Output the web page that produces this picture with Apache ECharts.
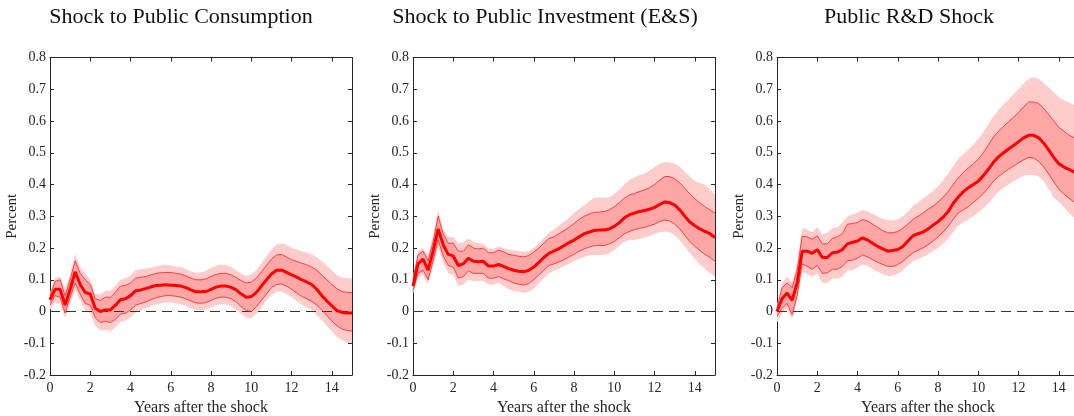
<!DOCTYPE html>
<html>
<head>
<meta charset="utf-8">
<script src="https://cdn.jsdelivr.net/npm/echarts@6/dist/echarts.min.js"></script>
<style>html,body{margin:0;padding:0;background:#fff}#c{width:1074px;height:416px}</style>
</head>
<body>
<div id="c"></div>
<script>
const titles = ['Shock to Public Consumption', 'Shock to Public Investment (E&S)', 'Public R&D Shock'];
const xAxisName = 'Years after the shock';
const yAxisName = 'Percent';

const horizon = [0,0.25,0.5,0.75,1,1.25,1.5,1.75,2,2.25,2.5,2.75,3,3.25,3.5,3.75,4,4.25,4.5,4.75,5,5.25,5.5,5.75,6,6.25,6.5,6.75,7,7.25,7.5,7.75,8,8.25,8.5,8.75,9,9.25,9.5,9.75,10,10.25,10.5,10.75,11,11.25,11.5,11.75,12,12.25,12.5,12.75,13,13.25,13.5,13.75,14,14.25,14.5,14.75,15];

// Panel 1: public consumption
const pcMed  = [0.037,0.07,0.07,0.02,0.07,0.125,0.085,0.06,0.055,0.01, 0.0,0.005,0.005,0.02,0.037,0.04,0.05,0.065,0.068,0.072, 0.077,0.082,0.083,0.084,0.083,0.082,0.08,0.075,0.068,0.062, 0.062,0.063,0.07,0.077,0.08,0.08,0.076,0.068,0.055,0.045, 0.047,0.06,0.08,0.1,0.118,0.13,0.13,0.123,0.115,0.108, 0.1,0.093,0.085,0.07,0.05,0.033,0.018,0.003,-0.003,-0.005,-0.005];
const pcHi68 = [0.05,0.095,0.1,0.05,0.1,0.16,0.12,0.1,0.085,0.04, 0.035,0.045,0.045,0.06,0.08,0.082,0.09,0.105,0.108,0.11, 0.115,0.12,0.122,0.123,0.123,0.12,0.118,0.112,0.105,0.1, 0.1,0.103,0.11,0.117,0.12,0.12,0.115,0.107,0.097,0.09, 0.093,0.105,0.125,0.145,0.165,0.178,0.18,0.172,0.163,0.158, 0.152,0.147,0.14,0.13,0.115,0.1,0.085,0.072,0.063,0.06,0.06];
const pcLo68 = [0.02,0.05,0.045,-0.005,0.045,0.09,0.055,0.025,0.02,-0.02, -0.035,-0.03,-0.035,-0.025,-0.008,-0.005,0.005,0.02,0.025,0.03, 0.037,0.043,0.047,0.05,0.05,0.048,0.045,0.04,0.033,0.027, 0.026,0.028,0.035,0.042,0.045,0.045,0.04,0.03,0.015,0.003, 0.0,0.015,0.035,0.055,0.075,0.085,0.087,0.08,0.07,0.058, 0.048,0.04,0.032,0.02,0.005,-0.013,-0.03,-0.045,-0.055,-0.06,-0.062];
const pcHi90 = [0.06,0.105,0.11,0.07,0.115,0.18,0.14,0.12,0.1,0.055, 0.055,0.065,0.065,0.08,0.1,0.105,0.113,0.13,0.133,0.135, 0.138,0.142,0.145,0.147,0.145,0.142,0.14,0.133,0.127,0.122, 0.123,0.128,0.137,0.145,0.148,0.146,0.14,0.13,0.12,0.112, 0.117,0.13,0.152,0.175,0.195,0.21,0.215,0.21,0.2,0.195, 0.19,0.185,0.18,0.17,0.158,0.143,0.13,0.115,0.107,0.105,0.105];
const pcLo90 = [0.005,0.03,0.025,-0.02,0.025,0.07,0.035,0.005,-0.005,-0.045, -0.06,-0.058,-0.062,-0.05,-0.033,-0.03,-0.018,-0.003,0.003,0.01, 0.017,0.022,0.025,0.028,0.028,0.026,0.023,0.018,0.01,0.005, 0.004,0.007,0.013,0.02,0.023,0.022,0.016,0.005,-0.008,-0.02, -0.022,-0.008,0.012,0.035,0.052,0.062,0.063,0.055,0.045,0.033, 0.022,0.013,0.004,-0.01,-0.027,-0.045,-0.063,-0.08,-0.09,-0.097,-0.1];

// Panel 2: public investment (E&S)
const piMed  = [0.08,0.15,0.165,0.13,0.19,0.26,0.21,0.18,0.175,0.145, 0.15,0.168,0.158,0.157,0.158,0.143,0.143,0.148,0.142,0.135, 0.13,0.127,0.125,0.13,0.14,0.155,0.17,0.183,0.19,0.198, 0.207,0.217,0.225,0.235,0.245,0.25,0.255,0.257,0.257,0.26, 0.268,0.28,0.295,0.305,0.31,0.315,0.318,0.322,0.328,0.337, 0.345,0.343,0.335,0.32,0.3,0.282,0.27,0.26,0.252,0.245,0.233];
const piHi68 = [0.1,0.178,0.19,0.16,0.22,0.3,0.245,0.215,0.215,0.19, 0.19,0.21,0.2,0.197,0.2,0.185,0.185,0.193,0.188,0.18, 0.177,0.174,0.172,0.176,0.187,0.2,0.215,0.23,0.235,0.245, 0.255,0.265,0.277,0.29,0.3,0.307,0.312,0.313,0.315,0.32, 0.33,0.343,0.357,0.367,0.372,0.378,0.383,0.39,0.4,0.413, 0.425,0.425,0.418,0.405,0.388,0.37,0.355,0.342,0.33,0.32,0.31];
const piLo68 = [0.065,0.12,0.13,0.1,0.16,0.225,0.175,0.145,0.14,0.105, 0.11,0.128,0.12,0.12,0.12,0.105,0.105,0.11,0.103,0.097, 0.09,0.086,0.083,0.088,0.1,0.115,0.13,0.145,0.15,0.156, 0.163,0.172,0.18,0.19,0.197,0.203,0.207,0.208,0.208,0.213, 0.22,0.232,0.245,0.252,0.258,0.262,0.265,0.27,0.275,0.283, 0.288,0.285,0.275,0.26,0.24,0.22,0.205,0.192,0.18,0.17,0.158];
const piHi90 = [0.11,0.19,0.2,0.175,0.24,0.32,0.26,0.235,0.235,0.215, 0.218,0.23,0.22,0.215,0.213,0.198,0.198,0.205,0.2,0.195, 0.193,0.19,0.188,0.19,0.2,0.215,0.232,0.248,0.258,0.27, 0.283,0.295,0.31,0.323,0.335,0.347,0.358,0.36,0.358,0.36, 0.37,0.385,0.4,0.415,0.422,0.43,0.435,0.443,0.455,0.465, 0.47,0.47,0.465,0.455,0.44,0.425,0.41,0.405,0.4,0.385,0.37];
const piLo90 = [0.055,0.11,0.115,0.085,0.145,0.205,0.155,0.12,0.115,0.08, 0.085,0.1,0.095,0.095,0.095,0.085,0.085,0.09,0.08,0.07, 0.065,0.062,0.058,0.062,0.072,0.088,0.105,0.12,0.128,0.135, 0.143,0.15,0.158,0.165,0.172,0.176,0.178,0.178,0.178,0.183, 0.193,0.207,0.22,0.225,0.225,0.228,0.232,0.238,0.245,0.25, 0.252,0.25,0.24,0.225,0.205,0.185,0.165,0.148,0.135,0.122,0.11];

// Panel 3: public R&D
const rdMed  = [0.0,0.04,0.058,0.035,0.09,0.19,0.19,0.183,0.195,0.17, 0.17,0.185,0.187,0.195,0.213,0.218,0.222,0.232,0.225,0.215, 0.205,0.197,0.19,0.192,0.195,0.205,0.222,0.238,0.245,0.25, 0.26,0.272,0.283,0.297,0.315,0.34,0.36,0.377,0.39,0.4, 0.41,0.428,0.448,0.47,0.487,0.5,0.512,0.523,0.535,0.547, 0.555,0.555,0.547,0.53,0.508,0.485,0.465,0.455,0.448,0.44,0.435];
const rdHi68 = [0.01,0.075,0.09,0.075,0.13,0.237,0.235,0.228,0.238,0.213, 0.213,0.23,0.235,0.245,0.275,0.277,0.28,0.29,0.285,0.275, 0.265,0.255,0.248,0.248,0.252,0.262,0.275,0.29,0.3,0.31, 0.322,0.332,0.345,0.36,0.378,0.4,0.42,0.437,0.452,0.465, 0.48,0.5,0.525,0.55,0.567,0.583,0.598,0.612,0.627,0.645, 0.66,0.66,0.655,0.64,0.62,0.6,0.58,0.568,0.555,0.548,0.54];
const rdLo68 = [-0.015,0.01,0.025,-0.01,0.05,0.15,0.142,0.133,0.145,0.12, 0.122,0.133,0.133,0.142,0.16,0.162,0.168,0.178,0.172,0.163, 0.155,0.148,0.142,0.142,0.148,0.158,0.172,0.185,0.193,0.2, 0.21,0.222,0.235,0.25,0.268,0.29,0.31,0.32,0.33,0.343, 0.357,0.372,0.39,0.41,0.425,0.437,0.448,0.458,0.468,0.478, 0.485,0.483,0.473,0.455,0.432,0.408,0.385,0.37,0.357,0.345,0.335];
const rdHi90 = [0.02,0.09,0.11,0.09,0.15,0.262,0.258,0.25,0.265,0.243, 0.248,0.262,0.265,0.28,0.3,0.305,0.312,0.32,0.315,0.308, 0.3,0.292,0.288,0.287,0.29,0.3,0.315,0.332,0.343,0.355, 0.367,0.38,0.395,0.413,0.435,0.458,0.48,0.495,0.51,0.525, 0.543,0.565,0.59,0.615,0.635,0.652,0.668,0.685,0.7,0.718, 0.733,0.738,0.733,0.72,0.705,0.69,0.675,0.665,0.658,0.652,0.645];
const rdLo90 = [-0.035,-0.005,0.01,-0.025,0.035,0.125,0.118,0.11,0.12,0.09, 0.09,0.105,0.103,0.11,0.128,0.13,0.138,0.148,0.143,0.133, 0.125,0.118,0.112,0.112,0.118,0.13,0.145,0.158,0.165,0.172, 0.18,0.19,0.2,0.213,0.23,0.25,0.27,0.28,0.29,0.3, 0.312,0.325,0.34,0.36,0.377,0.39,0.4,0.41,0.42,0.428, 0.43,0.43,0.425,0.41,0.385,0.358,0.345,0.328,0.31,0.295,0.28];

const panels = [
  {med: pcMed, hi68: pcHi68, lo68: pcLo68, hi90: pcHi90, lo90: pcLo90},
  {med: piMed, hi68: piHi68, lo68: piLo68, hi90: piHi90, lo90: piLo90},
  {med: rdMed, hi68: rdHi68, lo68: rdLo68, hi90: rdHi90, lo90: rdLo90}
];

const gridLefts = [50, 413, 777];
const gridTop = 57.5, gridW = 302, gridH = 317.5;
const titleCenters = [181, 545, 909];

const axisColor = '#262626';
const serif = 'Liberation Serif';
const outerColor = 'rgb(255,204,204)';
const innerColor = 'rgb(255,166,166)';

const pts = arr => horizon.map((t, k) => [t, arr[k]]);

// Band drawn as one polygon through the axis scales (api.coord)
function bandSeries(lo, hi, color, xi, yi, z) {
  return {
    type: 'custom', xAxisIndex: xi, yAxisIndex: yi, silent: true, animation: false, z: z,
    data: horizon.map((t, k) => [t, lo[k], hi[k]]),
    encode: {x: 0, y: [1, 2]},
    renderItem: function (params, api) {
      if (params.dataIndex !== 0) return null;
      const poly = [];
      for (let k = 0; k < horizon.length; k++) poly.push(api.coord([horizon[k], hi[k]]));
      for (let k = horizon.length - 1; k >= 0; k--) poly.push(api.coord([horizon[k], lo[k]]));
      return {type: 'polygon', shape: {points: poly}, style: {fill: color, stroke: null}};
    }
  };
}

const grid = [], xAxis = [], yAxis = [], series = [], graphic = [];
const yFmt = v => Math.abs(v) < 1e-9 ? '0' : String(+v.toFixed(1));

panels.forEach((p, i) => {
  grid.push({left: gridLefts[i], top: gridTop, width: gridW, height: gridH, containLabel: false, outerBoundsMode: 'none'});
  const tickCommon = {show: true, inside: true, length: 4, lineStyle: {color: axisColor, width: 1}};
  const lineCommon = {show: true, onZero: false, lineStyle: {color: axisColor, width: 1}};
  xAxis.push({
    gridIndex: i, type: 'value', min: 0, max: 15, interval: 2, position: 'bottom',
    axisLine: lineCommon, axisTick: tickCommon, splitLine: {show: false},
    axisLabel: {show: true, margin: 6, showMaxLabel: false, color: axisColor, fontFamily: serif, fontSize: 14},
    name: xAxisName, nameLocation: 'middle', nameGap: 23,
    nameTextStyle: {color: axisColor, fontFamily: serif, fontSize: 16}
  });
  xAxis.push({
    gridIndex: i, type: 'value', min: 0, max: 15, interval: 2, position: 'top',
    axisLine: lineCommon, axisTick: tickCommon, splitLine: {show: false}, axisLabel: {show: false}
  });
  yAxis.push({
    gridIndex: i, type: 'value', min: -0.2, max: 0.8, interval: 0.1, position: 'left',
    axisLine: lineCommon, axisTick: tickCommon, splitLine: {show: false},
    axisLabel: {show: true, margin: 4, formatter: yFmt, color: axisColor, fontFamily: serif, fontSize: 14},
    name: yAxisName, nameLocation: 'middle', nameGap: 23, nameRotate: 90,
    nameTextStyle: {color: axisColor, fontFamily: serif, fontSize: 15}
  });
  yAxis.push({
    gridIndex: i, type: 'value', min: -0.2, max: 0.8, interval: 0.1, position: 'right',
    axisLine: lineCommon, axisTick: tickCommon, splitLine: {show: false}, axisLabel: {show: false}
  });
  const xi = 2 * i, yi = 2 * i;
  const base = {type: 'line', xAxisIndex: xi, yAxisIndex: yi, symbol: 'none', silent: true, animation: false};
  series.push(bandSeries(p.lo90, p.hi90, outerColor, xi, yi, 1));
  series.push(bandSeries(p.lo68, p.hi68, innerColor, xi, yi, 2));
  series.push(Object.assign({}, base, {data: [[0, 0], [15, 0]], lineStyle: {color: '#333', width: 1, type: [10, 6]}, z: 3}));
  series.push(Object.assign({}, base, {data: pts(p.hi68), lineStyle: {color: '#ff2020', width: 0.8}, z: 4}));
  series.push(Object.assign({}, base, {data: pts(p.lo68), lineStyle: {color: '#ff2020', width: 0.8}, z: 4}));
  series.push(Object.assign({}, base, {data: pts(p.med), lineStyle: {color: '#ff0000', width: 3}, z: 5}));
  graphic.push({
    type: 'text', x: titleCenters[i], y: 6,
    style: {text: titles[i], textAlign: 'center', textVerticalAlign: 'top', fill: '#111', font: '22px "Liberation Serif"'}
  });
});

const chart = echarts.init(document.getElementById('c'), null, {renderer: 'canvas'});
chart.setOption({animation: false, grid, xAxis, yAxis, series, graphic});
</script>
</body>
</html>
